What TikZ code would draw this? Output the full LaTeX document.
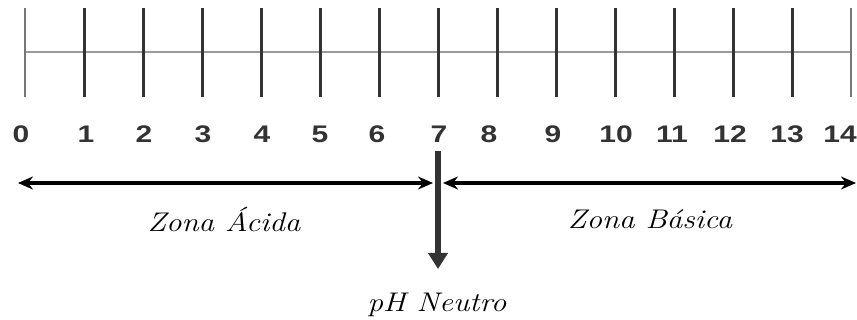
\documentclass[tikz,border=0pt]{standalone}
\usepackage{fontspec}
\setsansfont{Liberation Sans}
\usetikzlibrary{positioning,arrows.meta}

\definecolor{tickdark}{HTML}{333333}
\definecolor{ticklight}{HTML}{777777}
\definecolor{axisgray}{HTML}{9A9A9A}

\tikzset{
  tick/.style={tickdark, line width=3pt},
  endtick/.style={ticklight, line width=1.8pt},
  num/.style={font=\sffamily\bfseries\fontsize{24}{26}\selectfont, text=tickdark, inner sep=0pt, xscale=1.25, anchor=base},
  zone/.style={font=\itshape\fontsize{27}{29}\selectfont, inner sep=0pt, xscale=1.15, anchor=base},
  zonearrow/.style={line width=4.5pt, {Stealth[length=15pt,width=13pt,inset=5pt]}-{Stealth[length=15pt,width=13pt,inset=5pt]}}
}

\begin{document}
\begin{tikzpicture}[x=1pt,y=-1pt]
\useasboundingbox (0,0) rectangle (857,320);

% scale
\draw[axisgray, line width=2pt] (25,52) -- (851,52);
\draw[endtick] (25,8) -- (25,97);
\draw[endtick] (851,8) -- (851,97);
\foreach \i in {1,...,13}
{
  \draw[tick] (25+59*\i,8) -- (25+59*\i,97);
}
\foreach \i/\xpos in {0/21,1/86,2/144,3/203,4/262,5/320,6/377,7/439,8/489,9/553,10/616,11/672,12/730,13/787,14/840}
{
  \node[num] (n\i) at (\xpos,143) {\i};
}

% zones
\coordinate (aL) at (18,183);
\coordinate (aR) at (433,183);
\coordinate (bL) at (443,183);
\coordinate (bR) at (856,183);
\draw[zonearrow] (aL) -- (aR);
\draw[zonearrow] (bL) -- (bR);

\coordinate (nTop) at (438,151);
\coordinate (nBot) at (438,269);
\draw[tickdark, line width=6pt, -{Triangle[length=16pt,width=19pt]}] (nTop) -- (nBot);

\node[zone] (acida) at (224,232) {Zona Ácida};
\node[zone] (basica) at (650,229) {Zona Básica};
\node[zone] (neutro) at (437,312) {pH Neutro};

\end{tikzpicture}
\end{document}
